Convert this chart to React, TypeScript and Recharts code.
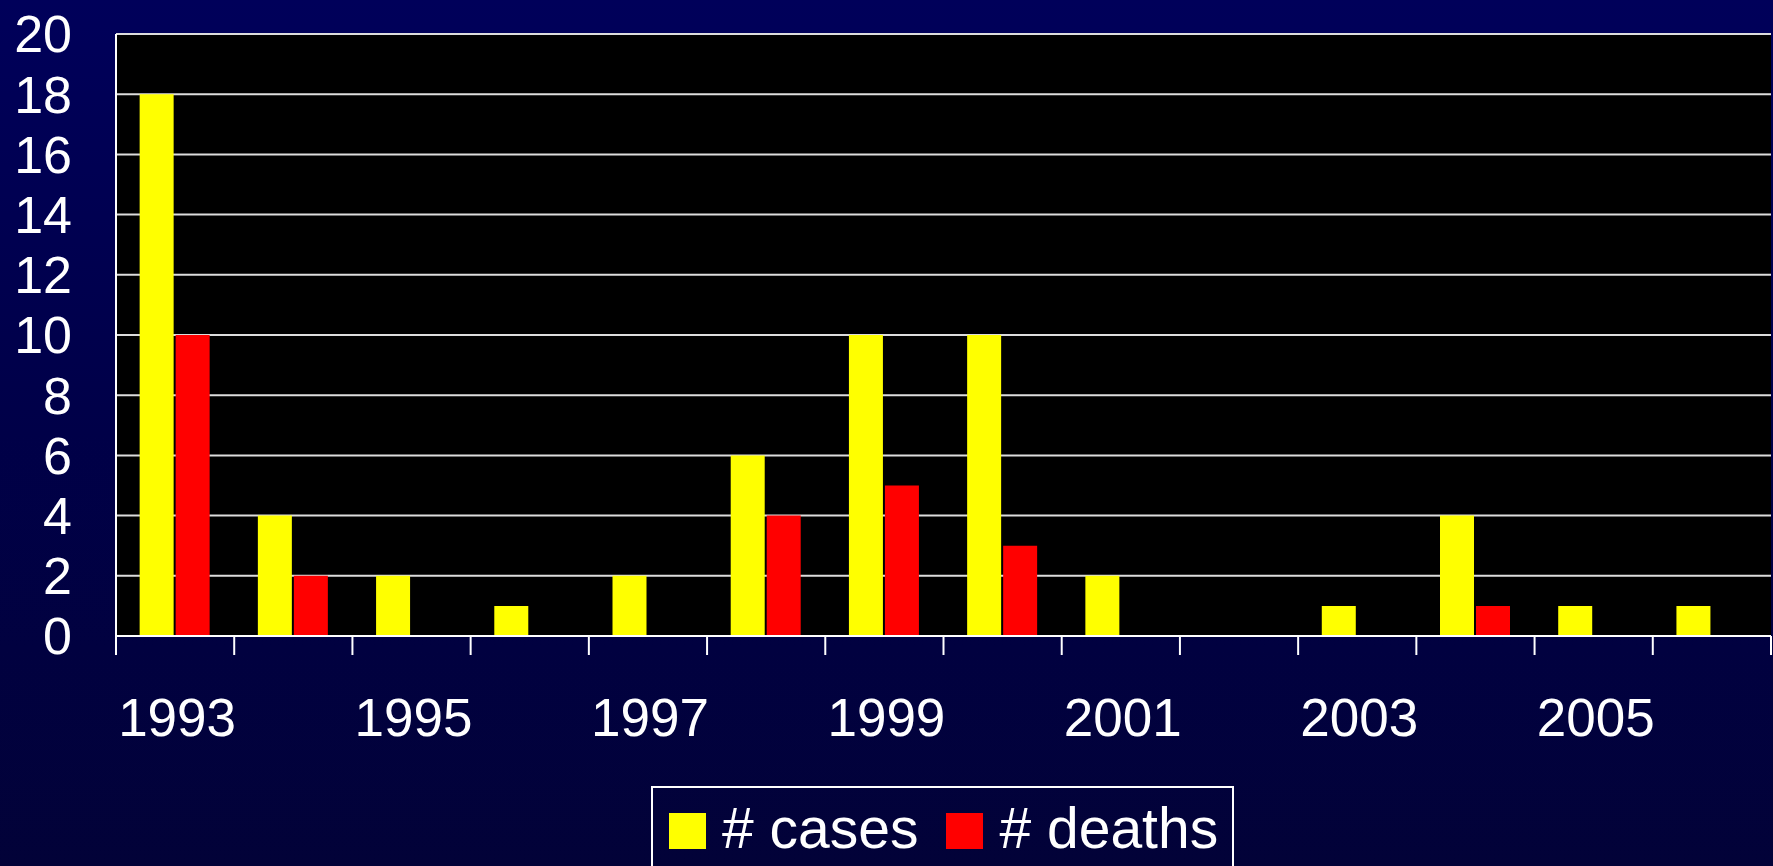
import { BarChart, Bar, XAxis, YAxis, CartesianGrid } from 'recharts';

const years = ['1993', '1994', '1995', '1996', '1997', '1998', '1999', '2000', '2001', '2002', '2003', '2004', '2005', '2006'];
const cases = [18, 4, 2, 1, 2, 6, 10, 10, 2, 0, 1, 4, 1, 1];
const deaths = [10, 2, 0, 0, 0, 4, 5, 3, 0, 0, 0, 1, 0, 0];
const yTicks = [0, 2, 4, 6, 8, 10, 12, 14, 16, 18, 20];
const shownYears = ['1993', '1995', '1997', '1999', '2001', '2003', '2005'];

const data = years.map((y, i) => ({ year: y, cases: cases[i], deaths: deaths[i] }));

const W = 1773;
const H = 866;
const PLOT_LEFT = 116;
const PLOT_RIGHT = 1771;
const HALF_BAND = (PLOT_RIGHT - PLOT_LEFT) / years.length / 2;
const FONT = '"Liberation Sans", Arial, Helvetica, sans-serif';

// category ticks sit on band boundaries, labels every other year
const YearTick = (props: any) => {
  const { x, y, payload, index } = props;
  const last = index === years.length - 1;
  return (
    <g>
      <line x1={x - HALF_BAND} x2={x - HALF_BAND} y1={y - 8} y2={y + 11} stroke="#fff" strokeWidth={2} />
      {last && <line x1={x + HALF_BAND} x2={x + HALF_BAND} y1={y - 8} y2={y + 11} stroke="#fff" strokeWidth={2} />}
      {shownYears.includes(payload.value) && (
        <text x={x + 2} y={y + 92} textAnchor="middle" fill="#fff" fontSize={53} fontFamily={FONT}>
          {payload.value}
        </text>
      )}
    </g>
  );
};

const swatch = (color: string, gap: number) => (
  <span
    style={{
      width: 37,
      height: 36,
      background: color,
      display: 'inline-block',
      marginRight: gap,
      position: 'relative',
      top: 3,
    }}
  />
);

const LegendBox = () => (
  <div
    style={{
      position: 'absolute',
      left: 651,
      top: 786,
      border: '2px solid #fff',
      padding: '10px 14px 40px 16px',
      display: 'flex',
      alignItems: 'center',
      color: '#fff',
      fontFamily: FONT,
      fontSize: 57,
      lineHeight: '60px',
      whiteSpace: 'nowrap',
    }}
  >
    {swatch('#ffff00', 16)}
    <span style={{ marginRight: 28 }}># cases</span>
    {swatch('#ff0000', 16)}
    <span># deaths</span>
  </div>
);

export default function App() {
  return (
    <div
      style={{
        position: 'fixed',
        left: 0,
        top: 0,
        width: W,
        height: H,
        background: 'linear-gradient(to bottom, #00005a 0%, #000048 50%, #020238 100%)',
        overflow: 'hidden',
      }}
    >
      <BarChart
        width={W}
        height={H}
        data={data}
        margin={{ top: 34, right: W - PLOT_RIGHT, left: 0, bottom: 0 }}
        barCategoryGap="20%"
        barGap={2}
      >
        <CartesianGrid vertical={false} fill="#000" stroke="#dcdcdc" strokeWidth={2} />
        <XAxis
          dataKey="year"
          height={230}
          interval={0}
          tick={<YearTick />}
          tickLine={false}
          axisLine={{ stroke: '#fff', strokeWidth: 2 }}
        />
        <YAxis
          domain={[0, 20]}
          ticks={yTicks}
          width={PLOT_LEFT}
          interval={0}
          tickLine={false}
          axisLine={{ stroke: '#fff', strokeWidth: 2 }}
          tick={{ fill: '#fff', fontSize: 52, fontFamily: FONT, dx: -36 }}
        />
        <YAxis yAxisId="edge" orientation="right" width={0} tick={false} tickLine={false} axisLine={{ stroke: '#ccc', strokeWidth: 2 }} />
        <Bar dataKey="cases" name="# cases" fill="#ffff00" isAnimationActive={false} />
        <Bar dataKey="deaths" name="# deaths" fill="#ff0000" isAnimationActive={false} />
      </BarChart>
      <LegendBox />
    </div>
  );
}
